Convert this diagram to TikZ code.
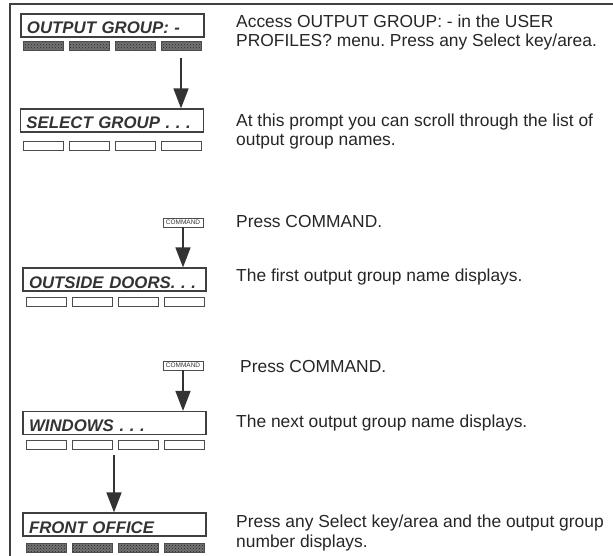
\documentclass[tikz,border=0pt]{standalone}
\usepackage{fontspec}
\setmainfont{Liberation Sans}
\usetikzlibrary{arrows.meta,patterns}
\frenchspacing
\tikzset{
  lcd/.style={draw=black!75,line width=1.2pt,text width=171pt,inner xsep=6pt,inner ysep=2pt,
    text height=18pt,text depth=1pt,align=left,text=black!80,
    font=\fontsize{16.8}{20}\selectfont\bfseries\itshape},
  softkey/.style={draw=black!70,line width=0.9pt,minimum width=40pt,minimum height=9pt,inner sep=0pt},
  pressed/.style={softkey,preaction={fill=black!55},pattern=crosshatch dots,pattern color=black!85},
  cmdkey/.style={draw=black!70,line width=0.8pt,minimum width=40pt,minimum height=9pt,inner sep=0pt,
    text=black!80,font=\fontsize{6.5}{7}\selectfont},
  note/.style={anchor=base west,align=left,inner sep=0pt,text=black!85,
    font=\fontsize{17.4}{19.5}\selectfont},
  flow/.style={line width=1.6pt,draw=black!80,-{Triangle[width=15pt,length=20pt]}}
}
\begin{document}
\begin{tikzpicture}[x=1pt,y=-1pt]
  \useasboundingbox (0,0) rectangle (613,556);
  \draw[line width=1.5pt,black!75] (613,4) -- (10,4) -- (10,556);

  \node[lcd] (grp) at (112.5,25.5) {\mbox{OUTPUT GROUP: -}};
  \foreach \k in {0,...,3}
    \node[pressed] (ka\k) at ({43+46*\k},46) {};
  \coordinate (a1) at (181,58);
  \node[lcd] (sel) at (112,120.5) {\mbox{SELECT GROUP . . .}};
  \foreach \k in {0,...,3}
    \node[softkey] (kb\k) at ({43+46*\k},146) {};
  \draw[flow] (a1) -- (a1 |- sel.north);

  \node[cmdkey] (cmd1) at (183,222.5) {COMMAND};
  \node[lcd] (out) at (114.5,279.5) {\mbox{OUTSIDE DOORS. . .}};
  \foreach \k in {0,...,3}
    \node[softkey] (kc\k) at ({46+46*\k},302) {};
  \draw[flow] (cmd1.south) -- (cmd1.south |- out.north);

  \node[cmdkey] (cmd2) at (183,365.5) {COMMAND};
  \node[lcd] (win) at (114.5,423) {\mbox{WINDOWS . . .}};
  \foreach \k in {0,...,3}
    \node[softkey] (kd\k) at ({46+46*\k},445) {};
  \draw[flow] (cmd2.south) -- (cmd2.south |- win.north);

  \coordinate (a2) at (114,455);
  \node[lcd] (front) at (114.5,524.5) {\mbox{FRONT OFFICE}};
  \foreach \k in {0,...,3}
    \node[pressed] (ke\k) at ({46+46*\k},547.5) {};
  \draw[flow] (a2) -- (a2 |- front.north);

  \node[note] (d1) at (236,47) {Access OUTPUT GROUP: - in the USER\\PROFILES? menu. Press any Select key/area.};
  \node[note] (d2) at (236,146) {At this prompt you can scroll through the list of\\output group names.};
  \node[note] (d3) at (236,227) {Press COMMAND.};
  \node[note] (d4) at (236,281) {The first output group name displays.};
  \node[note] (d5) at (240,372) {Press COMMAND.};
  \node[note] (d6) at (236,427) {The next output group name displays.};
  \node[note] (d7) at (236,547) {Press any Select key/area and the output group\\number displays.};
\end{tikzpicture}
\end{document}
